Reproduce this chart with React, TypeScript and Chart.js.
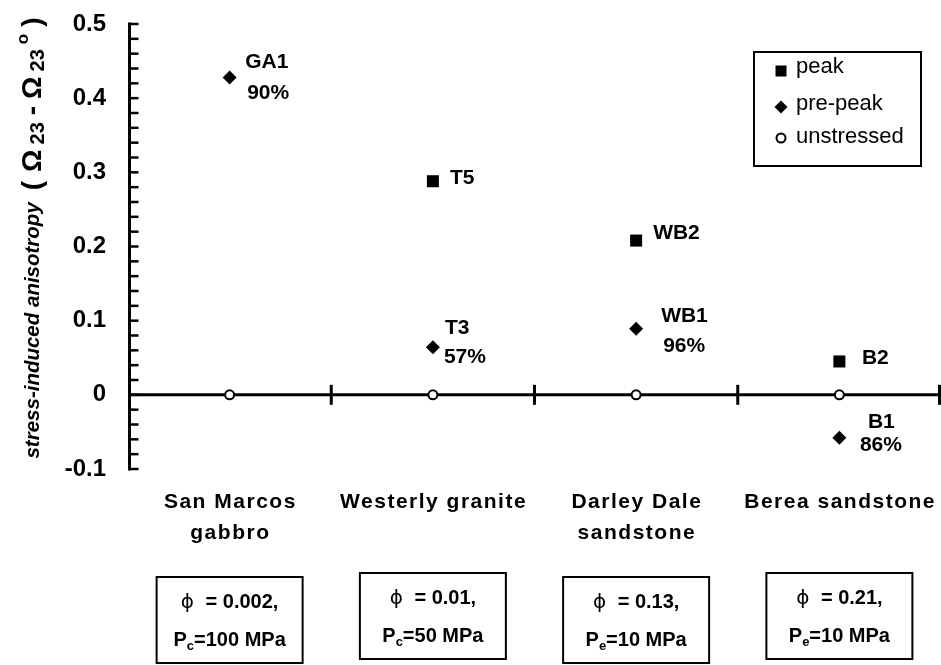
import { useEffect, useRef } from "react";
import { Chart, registerables } from "chart.js";

Chart.register(...registerables);

// Rock types along the horizontal axis (one entry per line of the label)
const categories = [["San Marcos", "gabbro"], ["Westerly granite"], ["Darley Dale", "sandstone"], ["Berea sandstone"]];
const porosity = ["0.002", "0.01", "0.13", "0.21"];
const pressureKind = ["c", "c", "e", "e"];
const pressureText = ["=100 MPa", "=50 MPa", "=10 MPa", "=10 MPa"];

// Samples taken at peak stress
const peakNames = ["T5", "WB2", "B2"];
const peakCategory = [1, 2, 3];
const peakValues = [0.288, 0.208, 0.045];

// Samples taken before peak stress, with the fraction of peak reached
const prePeakNames = ["GA1", "T3", "WB1", "B1"];
const prePeakCategory = [0, 1, 2, 3];
const prePeakValues = [0.428, 0.064, 0.089, -0.058];
const prePeakStress = ["90%", "57%", "96%", "86%"];

// Unstressed reference samples
const unstressedCategory = [0, 1, 2, 3];
const unstressedValues = [0, 0, 0, 0];

const yTickValues = [-0.1, 0, 0.1, 0.2, 0.3, 0.4, 0.5];
const yTickLabels = ["-0.1", "0", "0.1", "0.2", "0.3", "0.4", "0.5"];

// Layout of annotations (pixel offsets from each marker)
const peakLabelOffset = [[17, -3], [17, -7], [22.5, -3.5]];
const prePeakNameOffset = [[15.5, -15], [12, -19], [25, -13], [28.5, -16]];
const prePeakStressOffset = [[17.5, 16], [11, 10], [27, 17], [20.5, 7]];
const boxTops = [577, 573, 577, 573];

const FONT = '"Liberation Sans", Arial, Helvetica, sans-serif';

const toPoints = (cats: number[], vals: number[]) =>
  cats.map((c, i) => ({ x: c + 0.5, y: vals[i] }));

function drawRuns(
  ctx: CanvasRenderingContext2D,
  runs: { t: string; font: string; dy?: number; gap?: number }[],
  cx: number,
  y: number
) {
  let total = 0;
  for (const r of runs) {
    ctx.font = r.font;
    total += ctx.measureText(r.t).width + (r.gap || 0);
  }
  let x = cx - total / 2;
  ctx.textAlign = "left";
  for (const r of runs) {
    ctx.font = r.font;
    ctx.fillText(r.t, x, y + (r.dy || 0));
    x += ctx.measureText(r.t).width + (r.gap || 0);
  }
}

const paperPlugin = {
  id: "paperAxes",
  beforeDatasetsDraw(chart: any) {
    const { ctx } = chart;
    const xs = chart.scales.x;
    const ys = chart.scales.y;
    const axisX = xs.left + 1.5;
    const y0 = ys.getPixelForValue(0);
    ctx.save();
    ctx.strokeStyle = "#000";
    ctx.lineCap = "butt";

    // vertical axis
    ctx.lineWidth = 3;
    ctx.beginPath();
    ctx.moveTo(axisX, ys.getPixelForValue(0.5) - 1.5);
    ctx.lineTo(axisX, ys.getPixelForValue(-0.1) + 1.5);
    ctx.stroke();

    // inward ticks every 0.02
    ctx.lineWidth = 2.5;
    for (let k = -5; k <= 25; k++) {
      const py = ys.getPixelForValue(k / 50);
      ctx.beginPath();
      ctx.moveTo(axisX, py);
      ctx.lineTo(axisX + 9, py);
      ctx.stroke();
    }

    // zero line
    ctx.lineWidth = 3;
    ctx.beginPath();
    ctx.moveTo(axisX, y0);
    ctx.lineTo(chart.width, y0);
    ctx.stroke();

    // category separators
    for (let i = 1; i <= categories.length; i++) {
      const px = Math.min(xs.getPixelForValue(i), chart.width - 1.5);
      ctx.beginPath();
      ctx.moveTo(px, y0 - 10);
      ctx.lineTo(px, y0 + 10);
      ctx.stroke();
    }

    // tick labels
    ctx.fillStyle = "#000";
    ctx.font = `bold 24px ${FONT}`;
    ctx.textAlign = "right";
    ctx.textBaseline = "middle";
    yTickValues.forEach((v, i) => {
      ctx.fillText(yTickLabels[i], 106, ys.getPixelForValue(v));
    });
    ctx.restore();
  },
  afterDraw(chart: any) {
    const { ctx } = chart;
    const xs = chart.scales.x;
    const ys = chart.scales.y;
    ctx.save();
    ctx.fillStyle = "#000";
    ctx.strokeStyle = "#000";

    // sample labels
    ctx.font = `bold 21px ${FONT}`;
    ctx.textAlign = "left";
    ctx.textBaseline = "middle";
    peakNames.forEach((n, i) => {
      const px = xs.getPixelForValue(peakCategory[i] + 0.5);
      const py = ys.getPixelForValue(peakValues[i]);
      ctx.fillText(n, px + peakLabelOffset[i][0], py + peakLabelOffset[i][1]);
    });
    prePeakNames.forEach((n, i) => {
      const px = xs.getPixelForValue(prePeakCategory[i] + 0.5);
      const py = ys.getPixelForValue(prePeakValues[i]);
      ctx.fillText(n, px + prePeakNameOffset[i][0], py + prePeakNameOffset[i][1]);
      ctx.fillText(prePeakStress[i], px + prePeakStressOffset[i][0], py + prePeakStressOffset[i][1]);
    });

    // axis title
    ctx.save();
    ctx.translate(33, 238);
    ctx.rotate(-Math.PI / 2);
    ctx.textBaseline = "middle";
    drawRuns(
      ctx,
      [
        { t: "stress-induced anisotropy", font: `italic bold 20.5px ${FONT}`, gap: 12 },
        { t: "(", font: `bold 28px ${FONT}`, gap: 9 },
        { t: "Ω", font: `bold 28px ${FONT}`, gap: 5 },
        { t: "23", font: `bold 20px ${FONT}`, dy: 5, gap: 7 },
        { t: "-", font: `bold 28px ${FONT}`, gap: 7 },
        { t: "Ω", font: `bold 28px ${FONT}`, gap: 5 },
        { t: "23", font: `bold 20px ${FONT}`, dy: 5, gap: 5 },
        { t: "o", font: `bold 17px ${FONT}`, dy: -10, gap: 7 },
        { t: ")", font: `bold 28px ${FONT}` },
      ],
      0,
      0
    );
    ctx.restore();

    // category names
    ctx.textBaseline = "alphabetic";
    ctx.font = `bold 21px ${FONT}`;
    (ctx as any).letterSpacing = "1.5px";
    categories.forEach((lines, i) => {
      const cx = xs.getPixelForValue(i + 0.5);
      lines.forEach((line, j) => {
        const w = ctx.measureText(line).width - 1.5;
        ctx.fillText(line, cx - w / 2, 508 + j * 31);
      });
    });
    (ctx as any).letterSpacing = "0px";

    // condition boxes
    ctx.lineWidth = 2;
    categories.forEach((_, i) => {
      const cx = xs.getPixelForValue(i + 0.5);
      const top = boxTops[i];
      ctx.strokeRect(cx - 73, top, 146, 86);
      drawRuns(
        ctx,
        [
          { t: "ϕ", font: `20px "DejaVu Sans", sans-serif`, gap: 6 },
          { t: " = " + porosity[i] + ",", font: `bold 20px ${FONT}` },
        ],
        cx,
        top + 31
      );
      drawRuns(
        ctx,
        [
          { t: "P", font: `bold 20px ${FONT}` },
          { t: pressureKind[i], font: `bold 13px ${FONT}`, dy: 4 },
          { t: pressureText[i], font: `bold 20px ${FONT}` },
        ],
        cx,
        top + 68.5
      );
    });

    // legend
    const lx = 754, ly = 52;
    ctx.lineWidth = 2;
    ctx.strokeRect(lx, ly, 167, 114);
    const metas = chart.data.datasets;
    const rowY = [71, 107, 138];
    const textY = [73, 110, 143];
    metas.forEach((ds: any, i: number) => {
      const mx = 781;
      const my = rowY[i];
      ctx.beginPath();
      if (ds.pointStyle === "rect") {
        ctx.rect(mx - 5.5, my - 5.5, 11, 11);
        ctx.fill();
      } else if (ds.pointStyle === "rectRot") {
        ctx.moveTo(mx, my - 6.5);
        ctx.lineTo(mx + 6.5, my);
        ctx.lineTo(mx, my + 6.5);
        ctx.lineTo(mx - 6.5, my);
        ctx.closePath();
        ctx.fill();
      } else {
        ctx.arc(mx, my, 4.5, 0, Math.PI * 2);
        ctx.fillStyle = "#fff";
        ctx.fill();
        ctx.lineWidth = 2;
        ctx.stroke();
        ctx.fillStyle = "#000";
      }
      ctx.font = `22px ${FONT}`;
      ctx.textAlign = "left";
      ctx.textBaseline = "alphabetic";
      ctx.fillText(ds.label, 796, textY[i]);
    });

    ctx.restore();
  },
};

export default function App() {
  const ref = useRef<HTMLCanvasElement>(null);

  useEffect(() => {
    if (!ref.current) return;
    const chart = new Chart(ref.current, {
      type: "scatter",
      data: {
        datasets: [
          {
            label: "peak",
            data: toPoints(peakCategory, peakValues),
            pointStyle: "rect",
            pointRadius: 8.5,
            backgroundColor: "#000",
            borderWidth: 0,
          },
          {
            label: "pre-peak",
            data: toPoints(prePeakCategory, prePeakValues),
            pointStyle: "rectRot",
            pointRadius: 7,
            backgroundColor: "#000",
            borderWidth: 0,
          },
          {
            label: "unstressed",
            data: toPoints(unstressedCategory, unstressedValues),
            pointStyle: "circle",
            pointRadius: 4.5,
            backgroundColor: "#fff",
            borderColor: "#000",
            borderWidth: 2,
          },
        ],
      },
      options: {
        responsive: false,
        maintainAspectRatio: false,
        devicePixelRatio: 1,
        animation: false,
        events: [],
        layout: { autoPadding: false, padding: { left: 128, right: 0, top: 24, bottom: 196 } },
        scales: {
          x: { type: "linear", min: 0, max: categories.length, display: false },
          y: { type: "linear", min: -0.1, max: 0.5, display: false },
        },
        plugins: {
          legend: { display: false },
          tooltip: { enabled: false },
        },
      },
      plugins: [paperPlugin],
    });
    return () => chart.destroy();
  }, []);

  return (
    <div style={{ position: "absolute", left: 0, top: 0, width: 941, height: 665, background: "#fff" }}>
      <canvas ref={ref} width={941} height={665} style={{ display: "block", width: 941, height: 665 }} />
    </div>
  );
}
